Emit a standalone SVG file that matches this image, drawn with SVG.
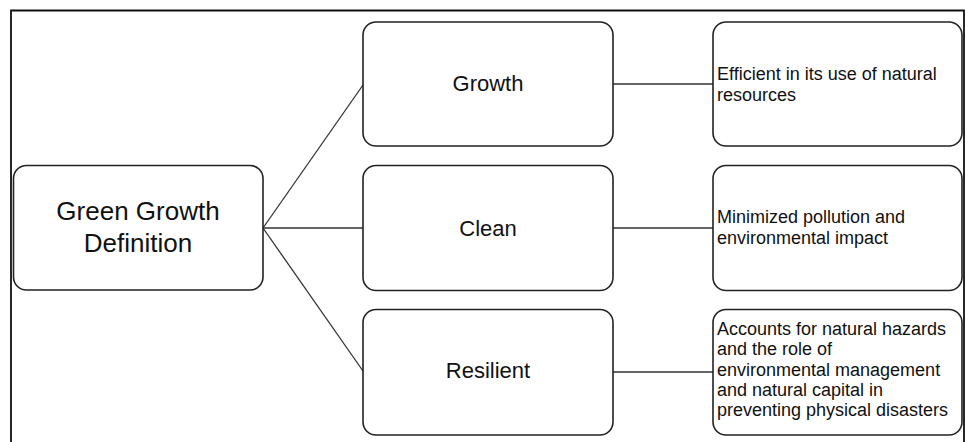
<svg xmlns="http://www.w3.org/2000/svg" width="965" height="442" viewBox="0 0 965 442">
<style>
.box{fill:#fff;stroke:#222;stroke-width:1.6}
.conn{stroke:#333;stroke-width:1.3;fill:none}
.t{font-family:"Liberation Sans",Arial,sans-serif;fill:#111}
.c{text-anchor:middle}
.frame{fill:none;stroke:#111;stroke-width:1.8}
</style>
<rect width="965" height="442" fill="#fff"/>
<path class="frame" d="M11,450 V10.5 H964 V450"/>
<g id="connectors">
<line class="conn" x1="263" y1="228" x2="363" y2="85"/>
<line class="conn" x1="263" y1="228" x2="363" y2="228"/>
<line class="conn" x1="263" y1="228" x2="363" y2="371"/>
<line class="conn" x1="613" y1="84" x2="713" y2="84"/>
<line class="conn" x1="613" y1="228" x2="713" y2="228"/>
<line class="conn" x1="613" y1="372" x2="713" y2="372"/>
</g>
<g id="root">
<rect class="box" x="13.5" y="165.5" width="249.5" height="124.5" rx="13"/>
<text class="t c" x="138" y="220" font-size="26">Green Growth</text>
<text class="t c" x="138" y="252" font-size="26">Definition</text>
</g>
<g id="growth">
<rect class="box" x="363" y="22" width="250" height="124" rx="13"/>
<text class="t c" x="488" y="91" font-size="22">Growth</text>
</g>
<g id="clean">
<rect class="box" x="363" y="165.5" width="250" height="125" rx="13"/>
<text class="t c" x="488" y="236" font-size="22">Clean</text>
</g>
<g id="resilient">
<rect class="box" x="363" y="309.5" width="250" height="125.5" rx="13"/>
<text class="t c" x="488" y="378" font-size="22">Resilient</text>
</g>
<g id="growth-desc">
<rect class="box" x="713" y="22" width="249" height="124" rx="13"/>
<text class="t" x="717" y="80" font-size="18">Efficient in its use of natural</text>
<text class="t" x="717" y="100.5" font-size="18">resources</text>
</g>
<g id="clean-desc">
<rect class="box" x="713" y="165.5" width="249" height="125" rx="13"/>
<text class="t" x="717" y="222.5" font-size="18">Minimized pollution and</text>
<text class="t" x="717" y="244" font-size="18">environmental impact</text>
</g>
<g id="resilient-desc">
<rect class="box" x="713" y="309.5" width="249" height="125.5" rx="13"/>
<text class="t" x="717" y="335" font-size="18">Accounts for natural hazards</text>
<text class="t" x="717" y="355.3" font-size="18">and the role of</text>
<text class="t" x="717" y="375.6" font-size="18">environmental management</text>
<text class="t" x="717" y="395.9" font-size="18">and natural capital in</text>
<text class="t" x="717" y="416.2" font-size="18">preventing physical disasters</text>
</g>
</svg>
